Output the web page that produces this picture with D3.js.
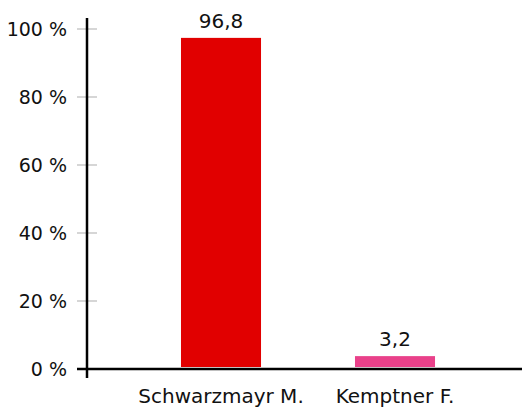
<!DOCTYPE html>
<html>
<head>
<meta charset="utf-8">
<script src="https://cdn.jsdelivr.net/npm/d3@7"></script>
<style>
  body { margin: 0; background: #fff; }
  text { font-family: "DejaVu Sans", sans-serif; fill: #111; }
</style>
</head>
<body>
<div class="chart"></div>
<script>
// data
const names = ["Schwarzmayr M.", "Kemptner F."];
const shares = [96.8, 3.2];
const colors = ["#e10000", "#e9418a"];
const tickValues = [0, 20, 40, 60, 80, 100];

const width = 522, height = 407;

let svg = d3.select(".chart").append("svg")
    .attr("width", width)
    .attr("height", height);

let y = d3.scaleLinear().domain([0, 100]).range([369, 29]);
let x = d3.scaleBand().domain(names).range([134, 482]).paddingInner(0.54).paddingOuter(0.27);

// ticks on y axis
let yAxis = svg.append("g").attr("transform", "translate(87,0)");
yAxis.selectAll("line.tick")
    .data(tickValues.filter(d => d > 0))
    .enter().append("line")
    .attr("class", "tick")
    .attr("x1", -10).attr("x2", 10)
    .attr("y1", d => y(d)).attr("y2", d => y(d))
    .style("stroke", "#c8c8c8")
    .style("stroke-width", 1.5);

yAxis.selectAll("text")
    .data(tickValues)
    .enter().append("text")
    .attr("x", -20)
    .attr("y", d => y(d))
    .attr("dy", "0.36em")
    .attr("text-anchor", "end")
    .style("font-size", "19px")
    .text(d => d + " %");

// bars (sit 2px above the axis line)
svg.selectAll("rect.bar")
    .data(shares)
    .enter().append("rect")
    .attr("class", "bar")
    .attr("x", (d, i) => x(names[i]))
    .attr("width", x.bandwidth())
    .attr("y", d => y(d) - 2)
    .attr("height", d => y(0) - y(d))
    .style("fill", (d, i) => colors[i]);

// value labels
svg.selectAll("text.val")
    .data(shares)
    .enter().append("text")
    .attr("class", "val")
    .attr("x", (d, i) => x(names[i]) + x.bandwidth() / 2)
    .attr("y", d => y(d) - 12)
    .attr("text-anchor", "middle")
    .style("font-size", "20px")
    .text(d => String(d).replace(".", ","));

// axis lines
svg.append("line")
    .attr("x1", 87).attr("x2", 87)
    .attr("y1", 18).attr("y2", 378)
    .style("stroke", "#000").style("stroke-width", 2.5);
svg.append("line")
    .attr("x1", 77).attr("x2", width)
    .attr("y1", y(0)).attr("y2", y(0))
    .style("stroke", "#000").style("stroke-width", 2.5);

// category labels
svg.selectAll("text.cat")
    .data(names)
    .enter().append("text")
    .attr("class", "cat")
    .attr("x", d => x(d) + x.bandwidth() / 2)
    .attr("y", 403)
    .attr("text-anchor", "middle")
    .style("font-size", "20px")
    .text(d => d);
</script>
</body>
</html>
